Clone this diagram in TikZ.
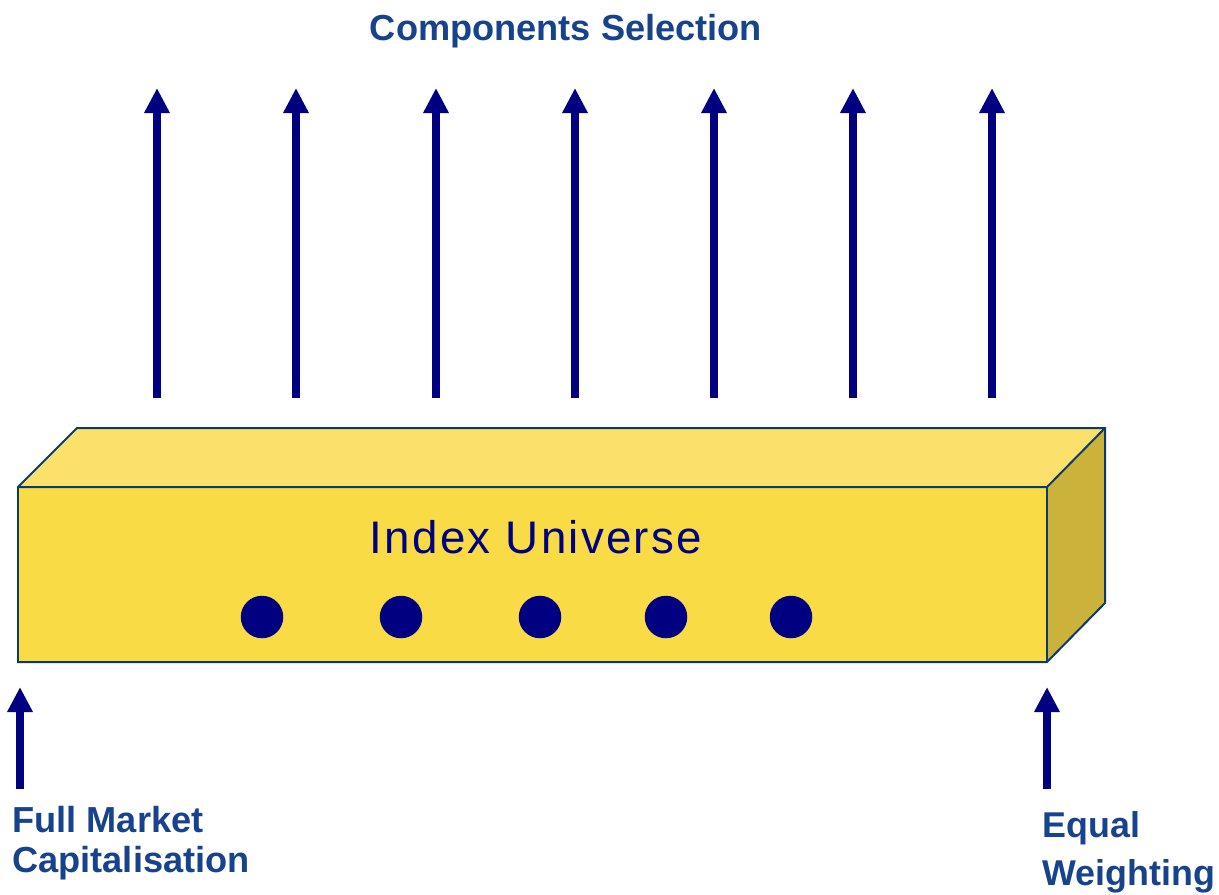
\documentclass[tikz,border=0pt]{standalone}
\usepackage{fontspec}
\setmainfont{Liberation Sans}
\newfontfamily\spacedfont[LetterSpace=5]{Liberation Sans}
\usetikzlibrary{arrows.meta}

\definecolor{boxfront}{HTML}{F9DC45}
\definecolor{boxtop}{HTML}{FBE16B}
\definecolor{boxside}{HTML}{CBB23A}
\definecolor{boxline}{HTML}{0B3A6E}
\definecolor{arrowcol}{HTML}{000080}
\definecolor{labelcol}{HTML}{17428C}

\tikzset{
  face/.style={draw=boxline, line width=0.04cm, line join=miter},
  uparrow/.style={draw=arrowcol, line width=0.15cm,
    -{Triangle[width=0.48cm,length=0.5cm]}},
  label/.style={text=labelcol, inner sep=0pt, font=\bfseries\fontsize{20.6}{22.7}\selectfont},
  dot/.style={circle, fill=arrowcol, minimum size=0.85cm, inner sep=0pt}
}

\begin{document}
\begin{tikzpicture}[x=0.02cm, y=-0.02cm]

\def \ytop {88}
\def \ybot {398}

\useasboundingbox (0,0) rectangle (1219,894);

% the box
\fill[boxtop] (18,487) -- (77,428) -- (1105,428) -- (1047,487) -- cycle;
\fill[boxside] (1047,487) -- (1105,428) -- (1105,603) -- (1047,662) -- cycle;
\fill[boxfront] (18,487) rectangle (1047,662);
\draw[face] (18,662) -- (18,487) -- (77,428) -- (1105,428) -- (1105,603) -- (1047,662) -- cycle;
\draw[face] (18,487) -- (1047,487) -- (1105,428);
\draw[face] (1047,487) -- (1047,662);

\node (universe) [anchor=base, text=arrowcol, inner sep=0pt,
  font=\spacedfont\fontsize{26}{28}\selectfont] at (536,553) {Index Universe};

\foreach \x [count=\i] in {262,401,540,666,791}
{
  \node (d\i) [dot] at (\x,617) {};
}

% components selection
\node (sel) [label, anchor=base] at (566,40) {Components Selection};

\foreach \x [count=\i] in {157,296,436,575,714,853,992}
{
  \coordinate (s\i) at (\x,\ybot);
  \coordinate (t\i) at (\x,\ytop);
  \draw[uparrow] (s\i) -- (t\i);
}

% weighting
\node (fmc) [label, anchor=base west, align=left] at (12,872) {Full Market\\Capitalisation};
\node (ew) [label, anchor=base west, align=left,
  font=\bfseries\fontsize{20.4}{27.2}\selectfont] at (1042,885) {Equal\\Weighting};

\coordinate (fmctail) at (20,789);
\coordinate (fmctip) at (20,687);
\coordinate (ewtail) at (1047,789);
\coordinate (ewtip) at (1047,687);
\draw[uparrow] (fmctail) -- (fmctip);
\draw[uparrow] (ewtail) -- (ewtip);

\end{tikzpicture}
\end{document}
